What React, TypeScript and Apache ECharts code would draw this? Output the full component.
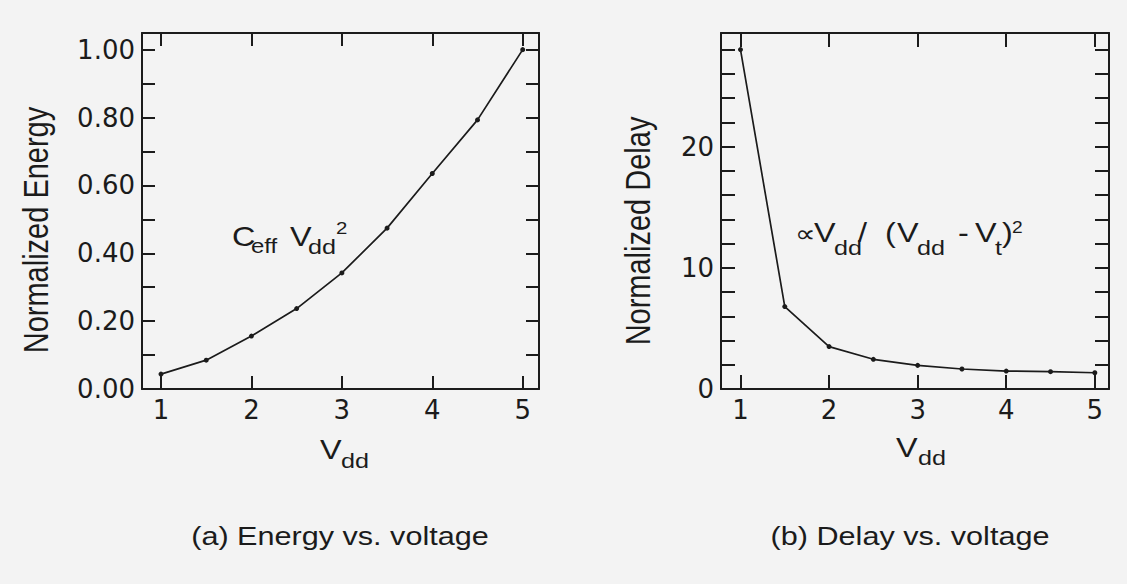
import React, { useEffect, useRef } from "react";
import * as echarts from "echarts";

// ---- data ----
const vdd = [1, 1.5, 2, 2.5, 3, 3.5, 4, 4.5, 5];
const energy = [0.044, 0.085, 0.156, 0.237, 0.342, 0.474, 0.635, 0.793, 1.0];
const delay = [28.0, 6.8, 3.5, 2.45, 1.95, 1.65, 1.48, 1.43, 1.34];

// ---- ticks / labels ----
const vddTicks = [1, 2, 3, 4, 5];
const energyTicks = [0, 0.1, 0.2, 0.3, 0.4, 0.5, 0.6, 0.7, 0.8, 0.9, 1.0];
const energyLabels = [0, 0.2, 0.4, 0.6, 0.8, 1.0];
const delayTicks = [0, 2, 4, 6, 8, 10, 12, 14, 16, 18, 20, 22, 24, 26, 28];
const delayLabels = [0, 10, 20];

const INK = "#1b1b1b";
const BG = "#f3f3f3";
const LABEL_FONT = '"DejaVu Sans", "Liberation Sans", sans-serif';
const TEXT_FONT = '"Liberation Sans", Arial, Helvetica, sans-serif';

function xAxis(grid: number, pos: string, showLabel: boolean, min: number, max: number, tickLen: number) {
  return {
    type: "value",
    gridIndex: grid,
    position: pos,
    min,
    max,
    axisLine: { show: true, onZero: false, lineStyle: { color: INK, width: 2 } },
    axisTick: { show: true, inside: true, length: tickLen, customValues: vddTicks, lineStyle: { color: INK, width: 2 } },
    axisLabel: {
      show: showLabel,
      customValues: vddTicks,
      margin: 8,
      color: INK,
      fontSize: 26,
      fontFamily: LABEL_FONT,
    },
    splitLine: { show: false },
  };
}

function yAxis(
  grid: number,
  pos: string,
  showLabel: boolean,
  max: number,
  ticks: number[],
  labels: number[],
  fmt: (v: number) => string,
  tickLen: number
) {
  return {
    type: "value",
    gridIndex: grid,
    position: pos,
    min: 0,
    max,
    axisLine: { show: true, onZero: false, lineStyle: { color: INK, width: 2 } },
    axisTick: { show: true, inside: true, length: tickLen, customValues: ticks, lineStyle: { color: INK, width: 2 } },
    axisLabel: {
      show: showLabel,
      customValues: labels,
      formatter: fmt,
      margin: 7,
      color: INK,
      fontSize: 26,
      fontFamily: LABEL_FONT,
      padding: [8, 0, 0, 0],
    },
    splitLine: { show: false },
  };
}

// text piece helper (scan is slightly stretched horizontally)
function T(text: string, x: number, baseline: number, size: number, align = "left") {
  return {
    type: "text",
    x,
    y: baseline - 0.3465 * size,
    scaleX: 1.2,
    silent: true,
    style: {
      text,
      x: 0,
      y: 0,
      fill: INK,
      font: `${size}px ${TEXT_FONT}`,
      align,
      textAlign: align,
      verticalAlign: "middle",
      textVerticalAlign: "middle",
    },
  };
}

function RT(text: string, x: number, y: number, size: number) {
  return {
    type: "text",
    x,
    y,
    rotation: Math.PI / 2,
    scaleY: 1.2,
    silent: true,
    style: {
      text,
      x: 0,
      y: 0,
      fill: INK,
      font: `${size}px ${TEXT_FONT}`,
      align: "center",
      textAlign: "center",
      verticalAlign: "middle",
      textVerticalAlign: "middle",
    },
  };
}

export default function App() {
  const ref = useRef<HTMLDivElement>(null);

  useEffect(() => {
    if (!ref.current) return;
    const chart = echarts.init(ref.current, undefined, { renderer: "svg" });
    const lineSeries = (xi: number, yi: number, vals: number[]) => ({
      type: "line",
      xAxisIndex: xi,
      yAxisIndex: yi,
      data: vdd.map((v, i) => [v, vals[i]]),
      symbol: "circle",
      symbolSize: 5,
      showSymbol: true,
      lineStyle: { color: INK, width: 1.7 },
      itemStyle: { color: INK },
      smooth: false,
      silent: true,
    });

    chart.setOption({
      animation: false,
      backgroundColor: BG,
      grid: [
        { left: 142, top: 33, width: 397, height: 356, outerBoundsMode: "none" },
        { left: 721, top: 33, width: 388, height: 356, outerBoundsMode: "none" },
      ],
      xAxis: [
        xAxis(0, "bottom", true, 0.79, 5.18, 13),
        xAxis(0, "top", false, 0.79, 5.18, 13),
        xAxis(1, "bottom", true, 0.78, 5.16, 14),
        xAxis(1, "top", false, 0.78, 5.16, 14),
      ],
      yAxis: [
        yAxis(0, "left", true, 1.049, energyTicks, energyLabels, (v: number) => v.toFixed(2), 13),
        yAxis(0, "right", false, 1.049, energyTicks, energyLabels, (v: number) => v.toFixed(2), 13),
        yAxis(1, "left", true, 29.37, delayTicks, delayLabels, (v: number) => String(v), 14),
        yAxis(1, "right", false, 29.37, delayTicks, delayLabels, (v: number) => String(v), 14),
      ],
      series: [lineSeries(0, 0, energy), lineSeries(2, 2, delay)],
      graphic: [
        // axis titles
        RT("Normalized Energy", 36, 230, 29),
        RT("Normalized Delay", 638, 231, 29),
        T("V", 320, 459, 27),
        T("dd", 341, 468, 21),
        T("V", 896, 457, 27),
        T("dd", 918, 465, 21),
        // captions
        T("(a) Energy vs. voltage", 340, 545, 25.5, "center"),
        T("(b) Delay vs. voltage", 910, 545, 25.5, "center"),
        // annotation (a)
        T("C", 232, 246, 27),
        T("eff", 251, 253, 20),
        T("V", 290, 246, 27),
        T("dd", 308, 254, 21),
        T("2", 336, 234, 17),
        // annotation (b)
        T("\u221D", 795, 242, 24),
        T("V", 814, 242, 27),
        T("dd", 834, 255, 21),
        T("/", 858, 242, 27),
        T("(", 885, 242, 27),
        T("V", 897, 242, 27),
        T("dd", 917, 255, 21),
        T("-", 958, 242, 27),
        T("V", 975, 242, 27),
        T("t", 995, 255, 21),
        T(")", 1002, 242, 27),
        T("2", 1012, 233, 16),
      ],
    });
    return () => chart.dispose();
  }, []);

  return (
    <div
      ref={ref}
      style={{ position: "fixed", left: 0, top: 0, width: 1127, height: 584 }}
    />
  );
}
